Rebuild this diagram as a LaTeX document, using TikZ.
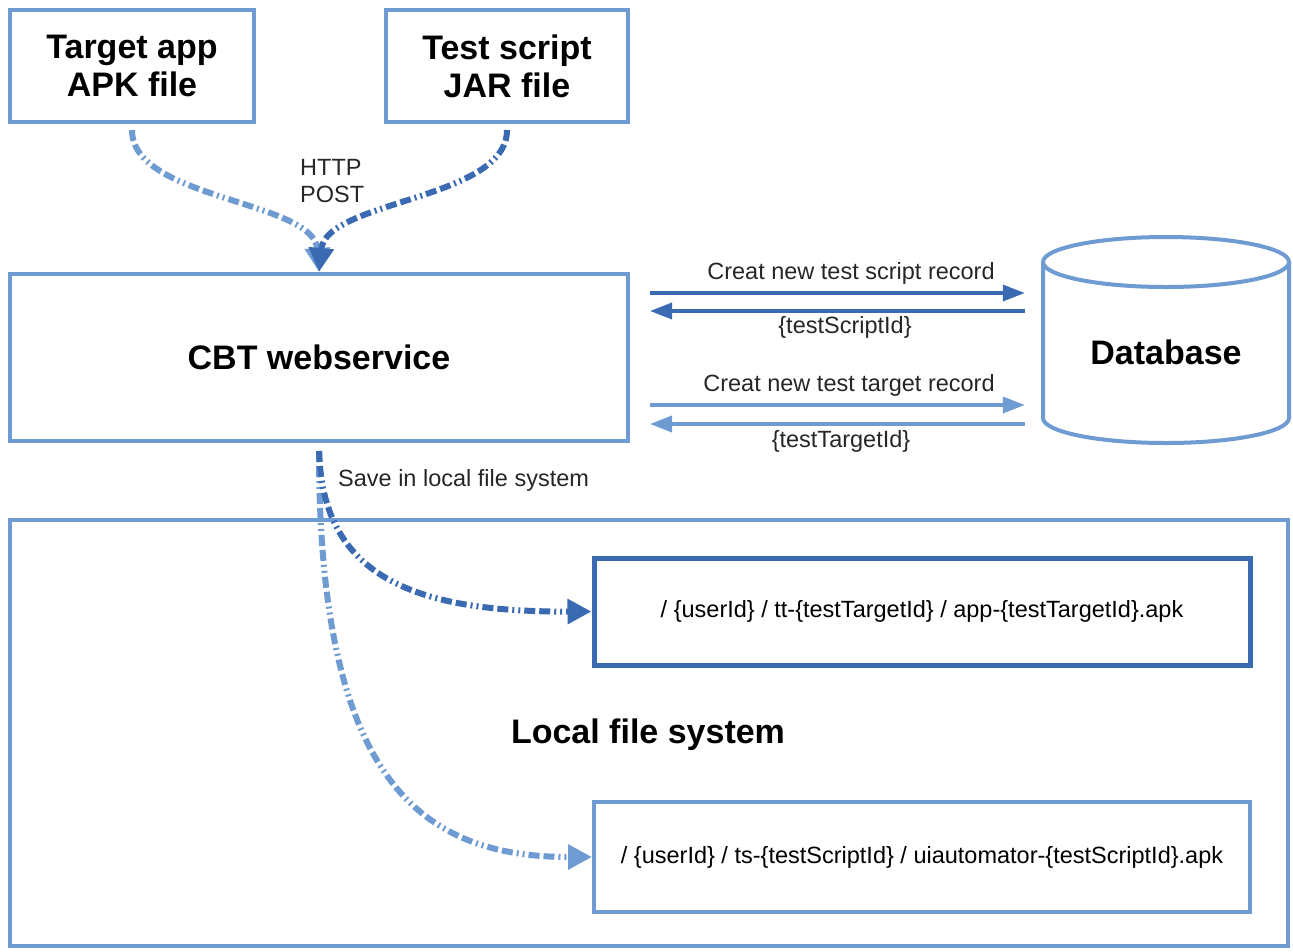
\documentclass[tikz,border=0pt]{standalone}
\usepackage{fontspec}
\setmainfont{Liberation Sans}
\usetikzlibrary{arrows.meta,calc}
\definecolor{lblue}{HTML}{6E9BD2}
\definecolor{dblue}{HTML}{3A6BB2}
\begin{document}
\begin{tikzpicture}[x=1pt,y=-1pt,
  bigfont/.style={font=\fontsize{34}{38}\selectfont\bfseries},
  smallfont/.style={font=\fontsize{23.5}{27}\selectfont},
  box/.style={draw=lblue,line width=4pt,inner sep=0pt,fill=white},
  flow/.style={line width=6pt,dash pattern=on 11pt off 4pt on 11pt off 4pt on 2pt off 4pt on 2pt off 4pt,-{Triangle[length=24pt,width=24pt]}},
  rec/.style={line width=3.5pt,-{Triangle[length=22pt,width=16pt]}},
  lbl/.style={smallfont,inner sep=0pt,text=black!85}]
\useasboundingbox (0,0) rectangle (1293,951);
% boxes
\node[box,minimum width=1278pt,minimum height=426pt,bigfont] (lfs) at (649,733) {};
\node[bigfont] (lfstext) at (648,735) {Local file system};
\node[box,minimum width=244pt,minimum height=112pt,bigfont,align=center] (tgt) at (132,66) {Target app\\APK file};
\node[box,minimum width=242pt,minimum height=112pt,bigfont,align=center] (tst) at (507,66) {Test script\\JAR file};
\node[box,minimum width=618pt,minimum height=167pt,bigfont] (cbt) at (319,357.5) {CBT webservice};
\node[box,draw=dblue,line width=5pt,minimum width=656pt,minimum height=107pt,smallfont] (f1) at (922,611.5) {/ \{userId\} / tt-\{testTargetId\} / app-\{testTargetId\}.apk};
\node[box,minimum width=656pt,minimum height=110pt,smallfont] (f2) at (922,857) {/ \{userId\} / ts-\{testScriptId\} / uiautomator-\{testScriptId\}.apk};
% database cylinder
\draw[lblue,line width=4pt,fill=white] (1043,262) -- (1043,418) arc[start angle=180,end angle=360,x radius=123,y radius=-25] -- (1289,262);
\draw[lblue,line width=4pt,fill=white] (1166,262) ellipse[x radius=123,y radius=25];
\node[bigfont,minimum width=246pt,inner sep=0pt] (db) at (1166,352) {Database};
% HTTP POST flows
\draw[flow,lblue,shorten <=6pt] (tgt.south) .. controls (132,200) and (314,200) .. (cbt.north);
\draw[flow,dblue,shorten <=6pt] (tst.south) .. controls (507,200) and (326,200) .. (cbt.north);
\node[lbl,anchor=west,align=left] (http) at (300,181) {HTTP\\POST};
% database records
\coordinate (a1) at ($(cbt.east)+(0,-64.5)$);
\coordinate (a2) at ($(cbt.east)+(0,-46.5)$);
\coordinate (a3) at ($(cbt.east)+(0,47.5)$);
\coordinate (a4) at ($(cbt.east)+(0,66.5)$);
\draw[rec,dblue,shorten <=20pt,shorten >=18pt] (a1) -- (a1 -| db.west);
\draw[rec,dblue,shorten <=18pt,shorten >=20pt] (a2 -| db.west) -- (a2);
\draw[rec,lblue,shorten <=20pt,shorten >=18pt] (a3) -- (a3 -| db.west);
\draw[rec,lblue,shorten <=18pt,shorten >=20pt] (a4 -| db.west) -- (a4);
\node[lbl] (l1) at (851,273) {Creat new test script record};
\node[lbl] (l2) at (845,327) {\{testScriptId\}};
\node[lbl] (l3) at (849,385) {Creat new test target record};
\node[lbl] (l4) at (841,441) {\{testTargetId\}};
% save flows
\draw[flow,lblue,shorten <=8pt] (cbt.south) .. controls (319,780) and (420,857) .. (f2.west);
\draw[flow,dblue,shorten <=8pt] (cbt.south) .. controls (322,580) and (420,612) .. (f1.west);
\node[lbl,anchor=west] (save) at (338,480) {Save in local file system};
\end{tikzpicture}
\end{document}
